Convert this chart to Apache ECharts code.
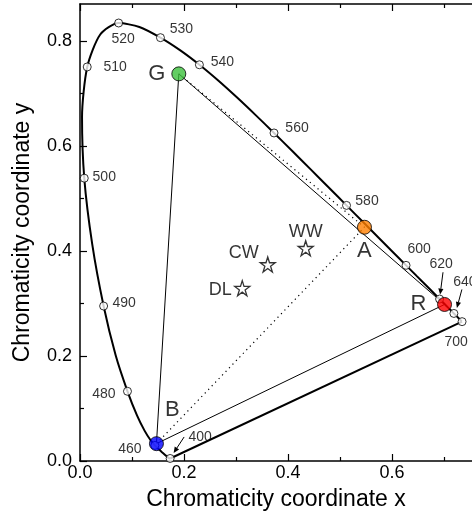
<!DOCTYPE html>
<html><head><meta charset="utf-8">
<script src="https://cdn.jsdelivr.net/npm/echarts@6/dist/echarts.min.js"></script>
<style>html,body{margin:0;padding:0;background:#fff}#c{width:472px;height:519px}</style>
</head><body><div id="c"></div>
<script>
// CIE 1931 spectral locus, 400-700 nm in 5 nm steps
const locusNm = [400,405,410,415,420,425,430,435,440,445,450,455,460,465,470,475,480,485,490,495,500,505,510,515,520,525,530,535,540,545,550,555,560,565,570,575,580,585,590,595,600,605,610,615,620,625,630,635,640,645,650,655,660,665,670,675,680,685,690,695,700];
const locusX = [0.1733,0.1730,0.1726,0.1721,0.1714,0.1703,0.1689,0.1669,0.1644,0.1611,0.1566,0.1510,0.1440,0.1355,0.1241,0.1096,0.0913,0.0687,0.0454,0.0235,0.0082,0.0039,0.0139,0.0389,0.0743,0.1142,0.1547,0.1929,0.2296,0.2658,0.3016,0.3373,0.3731,0.4087,0.4441,0.4788,0.5125,0.5448,0.5752,0.6029,0.6270,0.6482,0.6658,0.6801,0.6915,0.7006,0.7079,0.7140,0.7190,0.7230,0.7260,0.7283,0.7300,0.7311,0.7320,0.7327,0.7334,0.7340,0.7344,0.7346,0.7347];
const locusY = [0.0048,0.0048,0.0048,0.0048,0.0051,0.0058,0.0069,0.0086,0.0109,0.0138,0.0177,0.0227,0.0297,0.0399,0.0578,0.0868,0.1327,0.2007,0.2950,0.4127,0.5384,0.6548,0.7502,0.8120,0.8338,0.8262,0.8059,0.7816,0.7543,0.7243,0.6923,0.6589,0.6245,0.5896,0.5547,0.5202,0.4866,0.4544,0.4242,0.3965,0.3725,0.3514,0.3340,0.3197,0.3083,0.2993,0.2920,0.2859,0.2809,0.2770,0.2740,0.2717,0.2700,0.2689,0.2680,0.2673,0.2666,0.2660,0.2656,0.2654,0.2653];
const markerNm = [400,460,480,490,500,510,520,530,540,560,580,600,620,640,700];
const primaryNames = ['G','A','R','B'];
const primaryX = [0.190,0.547,0.701,0.147];
const primaryY = [0.737,0.445,0.298,0.033];
const whiteNames = ['DL','CW','WW'];
const whiteX = [0.312,0.361,0.434];
const whiteY = [0.329,0.374,0.405];
const xLabelTicks = [0,0.2,0.4,0.6];
const xMinorTicks = [0.1,0.3,0.5,0.7];
const yLabelTicks = [0,0.2,0.4,0.6,0.8];
const yMinorTicks = [0.1,0.3,0.5,0.7];

// ---- styles / layout ----
const FONT = 'Liberation Sans, Arial, sans-serif';
const X_MAX = 0.7538, Y_MAX = 0.87;
const primaryColors = {G:'#3cc03c', A:'#ff8000', R:'#ff0000', B:'#0000ff'};
const primaryLabelOff = {G:[-22,0], A:[0,24], R:[-26,-1], B:[16,-34]};
const whiteLabelOff = {DL:[-22,2], CW:[-24,-12], WW:[0,-16]};
const markerLabelOff = {400:[30,-21],460:[-25,3.5],480:[-23.5,3],490:[20.5,-3],500:[20,-1],510:[28,0],520:[4.5,16.5],530:[21,-9],540:[23,-3],560:[23,-5],580:[20.5,-4],600:[13,-16],620:[1.5,-35],640:[11,-31],700:[-6,20.5]};
const arrowOff = {620:[3.4,-26.8,0.5,-4.5], 640:[8,-24,3,-5.5], 400:[14,-21.5,3.5,-5.5]};

const pt = nm => { const i = locusNm.indexOf(nm); return [locusX[i], locusY[i]]; };
const P = {}; primaryNames.forEach((n,i)=>P[n]=[primaryX[i],primaryY[i]]);

const starPath = 'path://M50,2 L61.2,36.6 L97.6,36.6 L68.2,58 L79.4,92.6 L50,71.2 L20.6,92.6 L31.8,58 L2.4,36.6 L38.8,36.6 Z';

function xAx(pos, ticks, len, main){
  return {type:'value', min:0, max:X_MAX, position:pos, gridIndex:0,
    axisLine:{show:main, onZero:false, lineStyle:{color:'#000', width:1.5}},
    axisTick:{show:true, inside:true, length:len, customValues:ticks, lineStyle:{color:'#000', width:1.2}},
    axisLabel:{show:main && pos==='bottom', customValues:xLabelTicks, formatter:v=>v.toFixed(1), color:'#000', fontSize:18, fontFamily:FONT, margin:3},
    splitLine:{show:false},
    name: (main && pos==='bottom') ? 'Chromaticity coordinate x' : '',
    nameLocation:'middle', nameGap:27, nameTextStyle:{fontSize:23, fontFamily:FONT, color:'#000'}};
}
function yAx(ticks, len, main){
  return {type:'value', min:0, max:Y_MAX, position:'left',
    axisLine:{show:main, onZero:false, lineStyle:{color:'#000', width:1.5}},
    axisTick:{show:true, inside:true, length:len, customValues:ticks, lineStyle:{color:'#000', width:1.2}},
    axisLabel:{show:main, customValues:yLabelTicks, formatter:v=>v.toFixed(1), color:'#000', fontSize:18, fontFamily:FONT, margin:8},
    splitLine:{show:false},
    name: main ? 'Chromaticity coordinate y' : '',
    nameLocation:'middle', nameGap:46, nameTextStyle:{fontSize:23, fontFamily:FONT, color:'#000'}};
}

const chart = echarts.init(document.getElementById('c'), null, {renderer:'canvas'});
const option = {
  animation:false,
  backgroundColor:'#fff',
  grid:{left:80, top:4, right:0, bottom:58},
  xAxis:[xAx('bottom', xLabelTicks, 7, true), xAx('bottom', xMinorTicks, 4, false), xAx('top', xLabelTicks, 7, true), xAx('top', xMinorTicks, 4, false)],
  yAxis:[yAx(yLabelTicks, 7, true), yAx(yMinorTicks, 4, false)],
  series:[
    {type:'line', data:locusNm.map(nm=>pt(nm)), showSymbol:false, smooth:0.25, lineStyle:{color:'#000', width:2}, z:2, clip:false},
    {type:'line', data:[pt(700), pt(400)], showSymbol:false, lineStyle:{color:'#000', width:2}, z:2, clip:false},
    {type:'line', data:[P.G, P.R, P.B, P.G], showSymbol:false, lineStyle:{color:'#000', width:1}, z:2},
    {type:'line', data:[P.G, P.A, P.B], showSymbol:false, lineStyle:{color:'#000', width:1.2, type:[1.2,3.8]}, z:2},
    {type:'scatter', data:markerNm.map(nm=>({value:pt(nm), name:String(nm),
        label:{offset:markerLabelOff[nm]}})),
      symbol:'circle', symbolSize:8, itemStyle:{color:'#fff', borderColor:'#000', borderWidth:1}, z:3, clip:false,
      label:{show:true, position:'inside', formatter:'{b}', color:'#000', fontSize:14, fontFamily:FONT, align:'center', verticalAlign:'middle'}},
    {type:'scatter', data:primaryNames.map(n=>({value:P[n], name:n, itemStyle:{color:primaryColors[n]},
        label:{offset:primaryLabelOff[n]}})),
      symbol:'circle', symbolSize:14, itemStyle:{borderColor:'#000', borderWidth:1}, z:5,
      label:{show:true, position:'inside', formatter:'{b}', color:'#000', fontSize:22, fontFamily:FONT, align:'center', verticalAlign:'middle'}},
    {type:'scatter', data:whiteNames.map((n,i)=>({value:[whiteX[i], whiteY[i]], name:n, label:{offset:whiteLabelOff[n]}})),
      symbol:starPath, symbolSize:15, itemStyle:{color:'#fff', borderColor:'#000', borderWidth:1.3}, z:5,
      label:{show:true, position:'inside', formatter:'{b}', color:'#000', fontSize:18, fontFamily:FONT, align:'center', verticalAlign:'middle'}}
  ]
};
chart.setOption(option);

// arrows pointing to 400, 620, 640 nm markers
const graphics = [];
Object.keys(arrowOff).forEach(k=>{
  const nm = +k; const o = arrowOff[k];
  const c = chart.convertToPixel({gridIndex:0}, pt(nm));
  const x1=c[0]+o[0], y1=c[1]+o[1], x2=c[0]+o[2], y2=c[1]+o[3];
  const dx=x2-x1, dy=y2-y1, L=Math.hypot(dx,dy), ux=dx/L, uy=dy/L;
  const hl=6, hw=2.6;
  const bx=x2-ux*hl, by=y2-uy*hl;
  graphics.push({type:'line', shape:{x1:x1,y1:y1,x2:bx,y2:by}, style:{stroke:'#000', lineWidth:1}, z:10});
  graphics.push({type:'polygon', shape:{points:[[x2,y2],[bx-uy*hw,by+ux*hw],[bx+uy*hw,by-ux*hw]]}, style:{fill:'#000'}, z:10});
});
chart.setOption({graphic:graphics});
</script>
</body></html>
